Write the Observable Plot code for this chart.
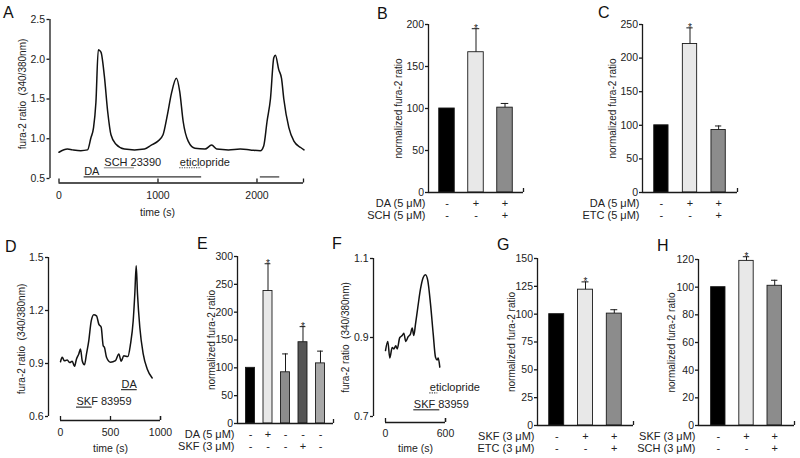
<!DOCTYPE html>
<html><head><meta charset="utf-8">
<script src="https://cdn.jsdelivr.net/npm/d3@7"></script>
<script src="https://cdn.jsdelivr.net/npm/@observablehq/plot@0.6"></script>
<style>
body{margin:0;background:#fff;}
#root{position:relative;width:800px;height:458px;overflow:hidden;font-family:"Liberation Sans",Arial,sans-serif;background:#fff;}
.panel{position:absolute;}
.letter{position:absolute;font-size:16px;line-height:16px;color:#111;}
</style></head><body><div id="root"></div>
<script>
// ---------- DATA ----------
// Panel A trace
const timeA  = [0,85,136,220,288,322,349,373,397,424,458,492,525,576,661,763,864,932,1000,1051,1095,1136,1186,1220,1254,1305,1373,1475,1542,1593,1712,1831,1932,2034,2068,2102,2136,2170,2186,2220,2248,2271,2322,2373,2441,2475];
const ratioA = [0.83,0.87,0.86,0.85,0.86,1.01,1.14,1.46,2.12,2.09,1.79,1.34,1.05,0.93,0.87,0.86,0.87,0.92,0.97,1.05,1.30,1.57,1.76,1.59,1.22,0.97,0.88,0.87,0.92,0.87,0.86,0.87,0.86,0.85,0.91,1.22,1.50,2.02,2.05,1.87,1.76,1.50,1.14,0.97,0.89,0.86];
const xTicksA = [0,1000,2000];
const yTicksA = [0.5,1.0,1.5,2.0,2.5];
const treatLabelA = ["DA","SCH 23390","eticlopride",""];
const treatStartA = [254,458,1220,2034];
const treatEndA   = [1441,763,1441,2230];
const treatLevelA = [0.52,0.635,0.635,0.52];
const treatKindA  = ["solid","gray","dotted","solid"];

// Panel D trace
const timeD  = [0,17,40,67,93,117,140,160,183,200,217,240,260,283,307,333,360,383,407,427,440,460,500,550,583,607,633,673,700,727,743,757,770,793,827,867,917];
const ratioD = [0.91,0.935,0.915,0.92,0.905,0.913,0.884,0.926,0.954,0.982,0.916,0.893,0.954,1.03,1.14,1.176,1.17,1.123,1.105,1.0,0.99,0.935,0.907,0.916,0.954,0.913,0.944,0.939,1.01,1.142,1.293,1.453,1.293,1.105,0.954,0.869,0.818];
const xTicksD = [0,500,1000];
const yTicksD = [0.6,0.9,1.2,1.5];
const treatLabelD = ["SKF 83959","DA"];
const treatStartD = [160,610];
const treatEndD   = [317,767];
const treatLevelD = [0.653,0.752];
const treatKindD  = ["solid","solid"];

// Panel F trace
const timeF  = [0,23,43,67,83,103,117,143,167,183,203,227,250,267,283,300,323,350,377,400,423,450,477,500,517,527,543];
const ratioF = [0.867,0.89,0.848,0.875,0.871,0.879,0.871,0.9,0.905,0.911,0.89,0.902,0.909,0.924,0.905,0.934,0.976,1.023,1.052,1.059,1.044,0.985,0.909,0.85,0.843,0.848,0.825];
const xTicksF = [0,600];
const yTicksF = [0.7,0.9,1.1];
const treatLabelF = ["SKF 83959","eticlopride"];
const treatStartF = [283,443];
const treatEndF   = [543,523];
const treatLevelF = [0.717,0.76];
const treatKindF  = ["solid","dotted"];

// Bar panels
const catsB = ["ctrl","DA","DA+SCH"];
const valB  = [100,167,101];
const errB  = [0,28,5];
const starB = [false,true,false];
const rowLabelsB = ["DA (5 μM)","SCH (5 μM)"];
const signsB = [["-","+","+"],["-","-","+"]];
const yTicksB = [0,50,100,150,200];

const catsC = ["ctrl","DA","DA+ETC"];
const valC  = [100,221,93];
const errC  = [0,24,6];
const starC = [false,true,false];
const rowLabelsC = ["DA (5 μM)","ETC (5 μM)"];
const signsC = [["-","+","+"],["-","-","+"]];
const yTicksC = [0,50,100,150,200,250];

const catsE = ["ctrl","DA","veh","SKF","veh2"];
const valE  = [100,238,92,146,108];
const errE  = [0,49,33,28,22];
const starE = [false,true,false,true,false];
const rowLabelsE = ["DA (5 μM)","SKF (3 μM)"];
const signsE = [["-","+","-","-","-"],["-","-","-","+","-"]];
const yTicksE = [0,50,100,150,200,250,300];

const catsG = ["ctrl","SKF","SKF+ETC"];
const valG  = [100,122,100.5];
const errG  = [0,7,3.5];
const starG = [false,true,false];
const rowLabelsG = ["SKF (3 μM)","ETC (3 μM)"];
const signsG = [["-","+","+"],["-","-","+"]];
const yTicksG = [0,25,50,75,100,125,150];

const catsH = ["ctrl","SKF","SKF+SCH"];
const valH  = [100,119,101];
const errH  = [0,3,4];
const starH = [false,true,false];
const rowLabelsH = ["SKF (3 μM)","SCH (3 μM)"];
const signsH = [["-","+","+"],["-","-","+"]];
const yTicksH = [0,20,40,60,80,100,120];

const yLabelTrace = "fura-2 ratio  (340/380nm)";
const yLabelBar = "normalized fura-2 ratio";
const xLabelTrace = "time (s)";

// ---------- STYLE ----------
const INK = "#1a1a1a";
const AXW = 1.3;
const STYLE = "background: transparent; overflow: visible; max-width: none; font-family: 'Liberation Sans', Arial, sans-serif; font-size: 10.5px; color: #222;";
const fills3 = ["#000000","#e8e8e8","#8c8c8c"];
const fills5 = ["#000000","#e8e8e8","#8c8c8c","#555555","#a8a8a8"];

const root = document.getElementById("root");
function place(el, left, top) {
  const d = document.createElement("div");
  d.className = "panel"; d.style.left = left + "px"; d.style.top = top + "px";
  d.appendChild(el); root.appendChild(d);
}
function letter(txt, left, top) {
  const d = document.createElement("div");
  d.className = "letter"; d.textContent = txt;
  d.style.left = left + "px"; d.style.top = top + "px";
  root.appendChild(d);
}

function tracePanel(c) {
  const pts = c.t.map((t, i) => ({t, r: c.r[i]}));
  const tr = c.labels.map((label, i) => ({label, x1: c.starts[i], x2: c.ends[i], y: c.levels[i], kind: c.kinds[i]}));
  const y0 = c.yTicks[0], y1 = c.yTicks[c.yTicks.length - 1];
  const fmt = d3.format(".1f");
  return Plot.plot({
    width: c.width, height: c.height,
    marginLeft: c.ml, marginRight: c.mr, marginTop: c.mt, marginBottom: c.mb,
    style: STYLE,
    x: {domain: [0, c.xEnd], axis: null},
    y: {domain: [y0, y1]},
    marks: [
      Plot.ruleX([0], {y1: y0, y2: y1, dx: c.axDx, stroke: INK, strokeWidth: AXW}),
      Plot.axisY({ticks: c.yTicks, tickFormat: fmt, tickSize: 3, tickPadding: 2, dx: c.axDx, label: null, fontSize: 10.5, stroke: INK, strokeWidth: AXW}),
      Plot.ruleY([y0], {x1: 0, x2: c.xEnd, dy: c.axDy, stroke: INK, strokeWidth: AXW}),
      Plot.ruleX([...c.xTicks, c.xEnd], {x: d => d, y1: y0, y2: y0, insetBottom: 4, dy: c.axDy, stroke: INK, strokeWidth: AXW}),
      Plot.text(c.xTicks, {x: d => d, text: d => String(d), frameAnchor: "bottom", lineAnchor: "middle", dy: c.tickDy, fontSize: 10.5}),
      Plot.text([xLabelTrace], {frameAnchor: "bottom-left", textAnchor: "middle", lineAnchor: "middle", dx: c.xLabelDx, dy: c.xLabelDy, fontSize: 10.5}),
      Plot.text([yLabelTrace], {frameAnchor: "left", textAnchor: "middle", lineAnchor: "middle", rotate: -90, dx: c.yLabelDx, dy: c.yLabelDy || 0, fontSize: 10}),
      Plot.ruleY(tr.filter(d => d.kind === "solid"), {y: "y", x1: "x1", x2: "x2", stroke: "#333", strokeWidth: 1.2}),
      Plot.ruleY(tr.filter(d => d.kind === "gray"), {y: "y", x1: "x1", x2: "x2", stroke: "#999", strokeWidth: 1.2}),
      Plot.ruleY(tr.filter(d => d.kind === "dotted"), {y: "y", x1: "x1", x2: "x2", stroke: "#444", strokeWidth: 1.2, strokeDasharray: "1.2,1.2"}),
      Plot.text(tr.filter(d => d.label), {x: "x1", y: "y", text: "label", textAnchor: "start", lineAnchor: "bottom", dy: -2, fontSize: 11}),
      Plot.line(pts, {x: "t", y: "r", stroke: "#111", strokeWidth: 1.5, curve: "monotone-x"})
    ]
  });
}

function barPanel(c) {
  const data = c.cats.map((cat, i) => ({cat, v: c.vals[i], e: c.errs[i], s: c.stars[i], f: c.fills[i]}));
  const withErr = data.filter(d => d.e > 0);
  const yMax = c.yTicks[c.yTicks.length - 1];
  const n = c.cats.length;
  const fw = c.width - c.ml - c.mr;
  const step = fw / (n - c.pi + 2 * c.po);
  const edge = c.po * step + (1 - c.pi) * step / 2; // band centre to frame edge
  const rowDy = [10.5, 23];
  const rowMarks = [];
  c.rowLabels.forEach((lab, r) => {
    rowMarks.push(Plot.text(c.cats, {x: d => d, text: (d, i) => c.signs[r][i], frameAnchor: "bottom", lineAnchor: "middle", dy: rowDy[r], fontSize: 11}));
    rowMarks.push(Plot.text([lab], {frameAnchor: "bottom-left", textAnchor: "end", lineAnchor: "middle", dx: -3, dy: rowDy[r], fontSize: 11}));
  });
  return Plot.plot({
    width: c.width, height: c.height,
    marginLeft: c.ml, marginRight: c.mr, marginTop: c.mt, marginBottom: c.mb,
    style: STYLE,
    x: {type: "band", domain: c.cats, paddingInner: c.pi, paddingOuter: c.po, round: false, axis: null},
    y: {domain: [0, yMax]},
    color: {type: "identity"},
    marks: [
      Plot.barY(data, {x: "cat", y: "v", fill: "f", stroke: INK, strokeWidth: 0.9}),
      Plot.ruleX(withErr, {x: "cat", y1: "v", y2: d => d.v + d.e, stroke: INK, strokeWidth: 1}),
      Plot.tickY(withErr, {x: "cat", y: d => d.v + d.e, stroke: INK, strokeWidth: 1, insetLeft: c.capInset, insetRight: c.capInset}),
      Plot.text(data.filter(d => d.s), {x: "cat", y: d => d.v + d.e, text: () => "*", lineAnchor: "bottom", dy: 3, fontSize: 10}),
      Plot.ruleX([c.cats[0]], {x: d => d, y1: 0, y2: yMax, dx: -edge, stroke: INK, strokeWidth: AXW}),
      Plot.ruleY([0], {stroke: INK, strokeWidth: AXW}),
      Plot.ruleX([c.cats[n - 1]], {x: d => d, y1: 0, y2: 0, insetBottom: 4, dx: edge, stroke: INK, strokeWidth: AXW}),
      Plot.axisY({ticks: c.yTicks, tickSize: 3, tickPadding: 1.5, label: null, fontSize: 10.5, stroke: INK, strokeWidth: AXW}),
      Plot.text([yLabelBar], {frameAnchor: "left", textAnchor: "middle", lineAnchor: "middle", rotate: -90, dx: c.yLabelDx, fontSize: 10}),
      ...rowMarks
    ]
  });
}

// ---------- PANELS ----------
place(tracePanel({t: timeA, r: ratioA, xEnd: 2470, xTicks: xTicksA, yTicks: yTicksA,
  labels: treatLabelA, starts: treatStartA, ends: treatEndA, levels: treatLevelA, kinds: treatKindA,
  width: 310, height: 220, ml: 58.5, mr: 7, mt: 19, mb: 42,
  axDx: -9, axDy: 4.5, tickDy: 17, xLabelDx: 98.5, xLabelDy: 34, yLabelDx: -36, yLabelDy: -5}), 0, 0);

place(barPanel({cats: catsB, vals: valB, errs: errB, stars: starB, rowLabels: rowLabelsB, signs: signsB, yTicks: yTicksB,
  fills: fills3, width: 168, height: 225, ml: 68, mr: 5, mt: 24, mb: 33, pi: 0.465, po: 0.37, capInset: 4, yLabelDx: -30}), 360, 0);

place(barPanel({cats: catsC, vals: valC, errs: errC, stars: starC, rowLabels: rowLabelsC, signs: signsC, yTicks: yTicksC,
  fills: fills3, width: 182, height: 225, ml: 82, mr: 5, mt: 24, mb: 33, pi: 0.5, po: 0.41, capInset: 4, yLabelDx: -30}), 560, 0);

place(tracePanel({t: timeD, r: ratioD, xEnd: 1000, xTicks: xTicksD, yTicks: yTicksD,
  labels: treatLabelD, starts: treatStartD, ends: treatEndD, levels: treatLevelD, kinds: treatKindD,
  width: 175, height: 238, ml: 60, mr: 15, mt: 37, mb: 42,
  axDx: -12, axDy: 4, tickDy: 16, xLabelDx: 50, xLabelDy: 32, yLabelDx: -39, yLabelDy: 2}), 0, 220);

place(barPanel({cats: catsE, vals: valE, errs: errE, stars: starE, rowLabels: rowLabelsE, signs: signsE, yTicks: yTicksE,
  fills: fills5, width: 168, height: 238, ml: 67, mr: 5, mt: 36, mb: 35, pi: 0.486, po: 0.486, capInset: 1.6, yLabelDx: -26}), 170, 220);

place(tracePanel({t: timeF, r: ratioF, xEnd: 600, xTicks: xTicksF, yTicks: yTicksF,
  labels: treatLabelF, starts: treatStartF, ends: treatEndF, levels: treatLevelF, kinds: treatKindF,
  width: 130, height: 238, ml: 50, mr: 20, mt: 38, mb: 42,
  axDx: -12, axDy: 6, tickDy: 17, xLabelDx: 30, xLabelDy: 32, yLabelDx: -40}), 335, 220);

place(barPanel({cats: catsG, vals: valG, errs: errG, stars: starG, rowLabels: rowLabelsG, signs: signsG, yTicks: yTicksG,
  fills: fills3, width: 160, height: 238, ml: 59, mr: 5, mt: 38, mb: 33, pi: 0.48, po: 0.407, capInset: 4, yLabelDx: -26}), 478, 220);

place(barPanel({cats: catsH, vals: valH, errs: errH, stars: starH, rowLabels: rowLabelsH, signs: signsH, yTicks: yTicksH,
  fills: fills3, width: 159, height: 238, ml: 58, mr: 5, mt: 39, mb: 33, pi: 0.49, po: 0.447, capInset: 4, yLabelDx: -27}), 640, 220);

letter("A", 3, 5); letter("B", 377, 6); letter("C", 598, 5); letter("D", 5, 239);
letter("E", 197, 236); letter("F", 332, 236); letter("G", 497, 237); letter("H", 657, 238);
</script></body></html>
